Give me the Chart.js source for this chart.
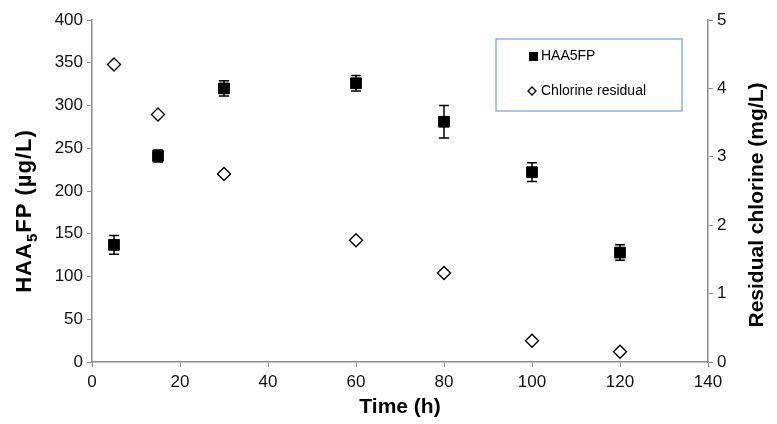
<!DOCTYPE html>
<html>
<head>
<meta charset="utf-8">
<script src="https://cdn.jsdelivr.net/npm/chart.js@4.4.1/dist/chart.umd.min.js"></script>
<style>
  html, body { margin: 0; padding: 0; background: #fff; }
  #wrap { width: 777px; height: 424px; }
</style>
</head>
<body>
<div id="wrap"><canvas id="chart"></canvas></div>
<script>
// values
let time = [5, 15, 30, 60, 80, 100, 120];
let haa5fp = [137, 241, 320, 326, 281, 222, 128];
let haa5fpErr = [11, 7, 9, 9, 19, 11, 9];
let chlorine = [4.35, 3.62, 2.75, 1.78, 1.3, 0.31, 0.15];

let fontName = "'Liberation Sans', Arial, sans-serif";
let axisGray = "#8c8c8c";

function points(xs, ys) {
  return xs.map((x, i) => ({ x: x, y: ys[i] }));
}

// error bars for the HAA5FP series
let errorBars = {
  id: "errorBars",
  afterDatasetsDraw(chart) {
    let ctx = chart.ctx;
    let xs = chart.scales.x;
    let ys = chart.scales.y;
    ctx.save();
    ctx.strokeStyle = "#000";
    ctx.lineWidth = 1.5;
    time.forEach((t, i) => {
      let px = xs.getPixelForValue(t);
      let top = ys.getPixelForValue(haa5fp[i] + haa5fpErr[i]);
      let bot = ys.getPixelForValue(haa5fp[i] - haa5fpErr[i]);
      ctx.beginPath();
      ctx.moveTo(px, top);
      ctx.lineTo(px, bot);
      ctx.moveTo(px - 5, top);
      ctx.lineTo(px + 5, top);
      ctx.moveTo(px - 5, bot);
      ctx.lineTo(px + 5, bot);
      ctx.stroke();
    });
    ctx.restore();
  },
};

// draw rotated text made of parts [text, size, baseline shift]
function drawVertical(ctx, parts, x, y, spacing) {
  ctx.save();
  ctx.fillStyle = "#000";
  ctx.textBaseline = "alphabetic";
  let total = 0;
  parts.forEach((p) => {
    ctx.font = "bold " + p[1] + "px " + fontName;
    total += ctx.measureText(p[0]).width + spacing * p[0].length;
  });
  ctx.translate(x, y);
  ctx.rotate(-Math.PI / 2);
  let cx = -total / 2;
  parts.forEach((p) => {
    ctx.font = "bold " + p[1] + "px " + fontName;
    for (let ch of p[0]) {
      ctx.fillText(ch, cx, p[2]);
      cx += ctx.measureText(ch).width + spacing;
    }
  });
  ctx.restore();
}

// both y axis titles read bottom to top
let axisTitles = {
  id: "axisTitles",
  afterDraw(chart) {
    let a = chart.chartArea;
    let mid = (a.top + a.bottom) / 2 + 14;
    drawVertical(
      chart.ctx,
      [["HAA", 22, 0], ["5", 15, 6], ["FP (µg/L)", 22, 0]],
      31,
      mid + 6,
      1
    );
    drawVertical(chart.ctx, [["Residual chlorine (mg/L)", 21, 0]], 763, mid, 0);
  },
};

// boxed legend inside the plot, top right
let boxLegend = {
  id: "boxLegend",
  afterDraw(chart) {
    let ctx = chart.ctx;
    let a = chart.chartArea;
    let left = a.right - 212;
    let top = a.top + 19;
    ctx.save();
    ctx.strokeStyle = "#6f9fe6";
    ctx.lineWidth = 1.2;
    ctx.strokeRect(left, top, 186, 72);

    ctx.fillStyle = "#000";
    ctx.fillRect(left + 33, top + 13, 9, 9);

    ctx.beginPath();
    ctx.moveTo(left + 36, top + 48);
    ctx.lineTo(left + 40, top + 52);
    ctx.lineTo(left + 36, top + 56);
    ctx.lineTo(left + 32, top + 52);
    ctx.closePath();
    ctx.fillStyle = "#fff";
    ctx.fill();
    ctx.strokeStyle = "#000";
    ctx.lineWidth = 1.3;
    ctx.stroke();

    ctx.fillStyle = "#000";
    ctx.font = "14px " + fontName;
    ctx.textBaseline = "middle";
    ctx.fillText("HAA5FP", left + 45, top + 17.5);
    ctx.fillText("Chlorine residual", left + 45, top + 52.5);
    ctx.restore();
  },
};

let tickFont = { family: fontName, size: 17 };
let titleFont = { family: fontName, size: 21, weight: "bold" };

new Chart(document.getElementById("chart"), {
  type: "scatter",
  data: {
    datasets: [
      {
        label: "HAA5FP",
        data: points(time, haa5fp),
        yAxisID: "y",
        pointStyle: "rect",
        pointRadius: 7.6,
        backgroundColor: "#000",
        borderColor: "#000",
        borderWidth: 1,
        order: 2,
      },
      {
        label: "Chlorine residual",
        data: points(time, chlorine),
        yAxisID: "y2",
        pointStyle: "rectRot",
        pointRadius: 6.5,
        backgroundColor: "#fff",
        borderColor: "#000",
        borderWidth: 1.4,
        order: 1,
      },
    ],
  },
  options: {
    responsive: true,
    maintainAspectRatio: false,
    animation: false,
    layout: { padding: { top: 20, left: 0, right: 0, bottom: 0 } },
    plugins: {
      legend: { display: false },
      tooltip: { enabled: false },
    },
    scales: {
      x: {
        type: "linear",
        min: 0,
        max: 140,
        ticks: { stepSize: 20, color: "#111", font: tickFont, padding: 5 },
        grid: { drawOnChartArea: false, color: axisGray, tickLength: 5 },
        border: { color: axisGray, width: 1.5 },
        title: {
          display: true,
          text: "Time (h)",
          color: "#000",
          font: titleFont,
          padding: { top: 2 },
        },
        afterFit: (s) => { s.height = 62; },
      },
      y: {
        position: "left",
        min: 0,
        max: 400,
        ticks: { stepSize: 50, color: "#111", font: tickFont, padding: 4 },
        grid: { drawOnChartArea: false, color: axisGray, tickLength: 5 },
        border: { color: axisGray, width: 1.5 },
        afterFit: (s) => { s.width = 92; },
      },
      y2: {
        position: "right",
        min: 0,
        max: 5,
        ticks: { stepSize: 1, color: "#111", font: tickFont, padding: 4 },
        grid: { drawOnChartArea: false, color: axisGray, tickLength: 5 },
        border: { color: axisGray, width: 1.5 },
        afterFit: (s) => { s.width = 69; },
      },
    },
  },
  plugins: [errorBars, axisTitles, boxLegend],
});
</script>
</body>
</html>
